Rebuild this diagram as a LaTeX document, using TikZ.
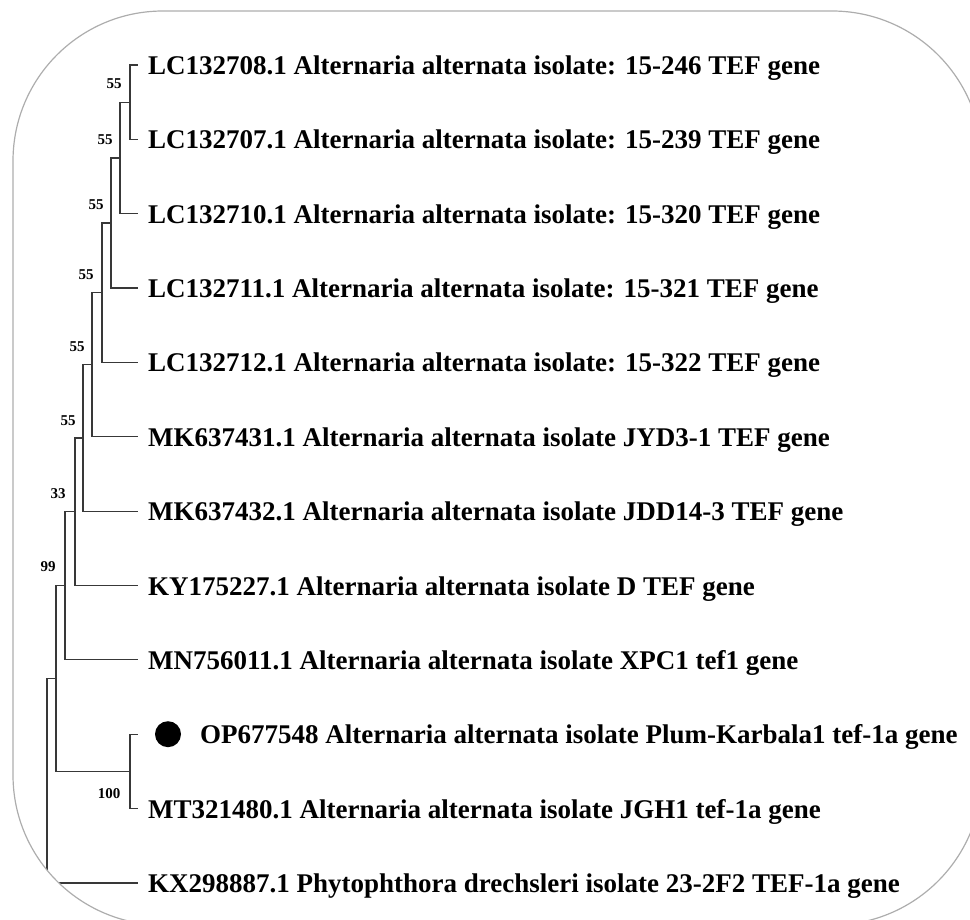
\documentclass[tikz,border=0pt]{standalone}
\usepackage{fontspec}
\setmainfont{Liberation Serif}
\begin{document}
\begin{tikzpicture}[x=1pt,y=-1pt,
  branch/.style={draw=black!78,line width=1.2pt,line cap=rect},
  taxon/.style={anchor=base west,inner sep=0pt,font=\fontsize{27}{30}\selectfont\bfseries},
  boot/.style={inner sep=0pt,font=\fontsize{15}{17}\selectfont\bfseries},
  frame/.style={draw=black!32,line width=1.2pt}]
\useasboundingbox (0,0) rectangle (970,920);
\begin{scope}
\clip[rounded corners=150pt] (13,11) rectangle (982,925);
% tip y positions
\foreach \i/\y in {0/65,1/139.4,2/213.7,3/288,4/362.4,5/436.8,6/511.1,7/585.5,8/659.8,9/734.2,10/808.5,11/882.9}
  \coordinate (e\i) at (137,\y);
% internal nodes
\coordinate (n1) at (130,102.2);
\coordinate (n2) at (120,158);
\coordinate (n3) at (111,223);
\coordinate (n4) at (102,292.7);
\coordinate (n5) at (92,364.7);
\coordinate (n6) at (83,437.9);
\coordinate (n7) at (75,511.7);
\coordinate (n8) at (65,585.8);
\coordinate (nop) at (130,771.4);
\coordinate (n9) at (56,678.6);
\coordinate (n10) at (47,780.7);
% branches
\draw[branch] (n1) |- (e0);
\draw[branch] (n1) |- (e1);
\draw[branch] (n2) |- (n1);
\draw[branch] (n2) |- (e2);
\draw[branch] (n3) |- (n2);
\draw[branch] (n3) |- (e3);
\draw[branch] (n4) |- (n3);
\draw[branch] (n4) |- (e4);
\draw[branch] (n5) |- (n4);
\draw[branch] (n5) |- (e5);
\draw[branch] (n6) |- (n5);
\draw[branch] (n6) |- (e6);
\draw[branch] (n7) |- (n6);
\draw[branch] (n7) |- (e7);
\draw[branch] (n8) |- (n7);
\draw[branch] (n8) |- (e8);
\draw[branch] (nop) |- (e9);
\draw[branch] (nop) |- (e10);
\draw[branch] (n9) |- (n8);
\draw[branch] (n9) |- (nop);
\draw[branch] (n10) |- (n9);
\draw[branch] (n10) |- (e11);
% taxa
\node[taxon] (t0) at (148,74.5) {LC132708.1 Alternaria alternata isolate: 15-246 TEF gene};
\node[taxon] (t1) at (148,148.9) {LC132707.1 Alternaria alternata isolate: 15-239 TEF gene};
\node[taxon] (t2) at (148,223.2) {LC132710.1 Alternaria alternata isolate: 15-320 TEF gene};
\node[taxon] (t3) at (148,297.5) {LC132711.1 Alternaria alternata isolate: 15-321 TEF gene};
\node[taxon] (t4) at (148,371.9) {LC132712.1 Alternaria alternata isolate: 15-322 TEF gene};
\node[taxon] (t5) at (148,446.3) {MK637431.1 Alternaria alternata isolate JYD3-1 TEF gene};
\node[taxon] (t6) at (148,520.6) {MK637432.1 Alternaria alternata isolate JDD14-3 TEF gene};
\node[taxon] (t7) at (148,595) {KY175227.1 Alternaria alternata isolate D TEF gene};
\node[taxon] (t8) at (148,669.3) {MN756011.1 Alternaria alternata isolate XPC1 tef1 gene};
\node[circle,fill=black,minimum size=26pt,inner sep=0pt] (dot) at (168,734.2) {};
\node[taxon] (t9) at (200,743.7) {OP677548 Alternaria alternata isolate Plum-Karbala1 tef-1a gene};
\node[taxon] (t10) at (148,818) {MT321480.1 Alternaria alternata isolate JGH1 tef-1a gene};
\node[taxon] (t11) at (148,892.4) {KX298887.1 Phytophthora drechsleri isolate 23-2F2 TEF-1a gene};
% bootstrap values
\node[boot] (b1) at (114,84) {55};
\node[boot] (b2) at (105,140) {55};
\node[boot] (b3) at (96,205) {55};
\node[boot] (b4) at (86,275) {55};
\node[boot] (b5) at (77,347) {55};
\node[boot] (b6) at (68,421) {55};
\node[boot] (b7) at (58,494) {33};
\node[boot] (b8) at (48,567) {99};
\node[boot] (b9) at (109,794) {100};
\end{scope}
\draw[frame,rounded corners=150pt] (13,11) rectangle (982,925);
\end{tikzpicture}
\end{document}
